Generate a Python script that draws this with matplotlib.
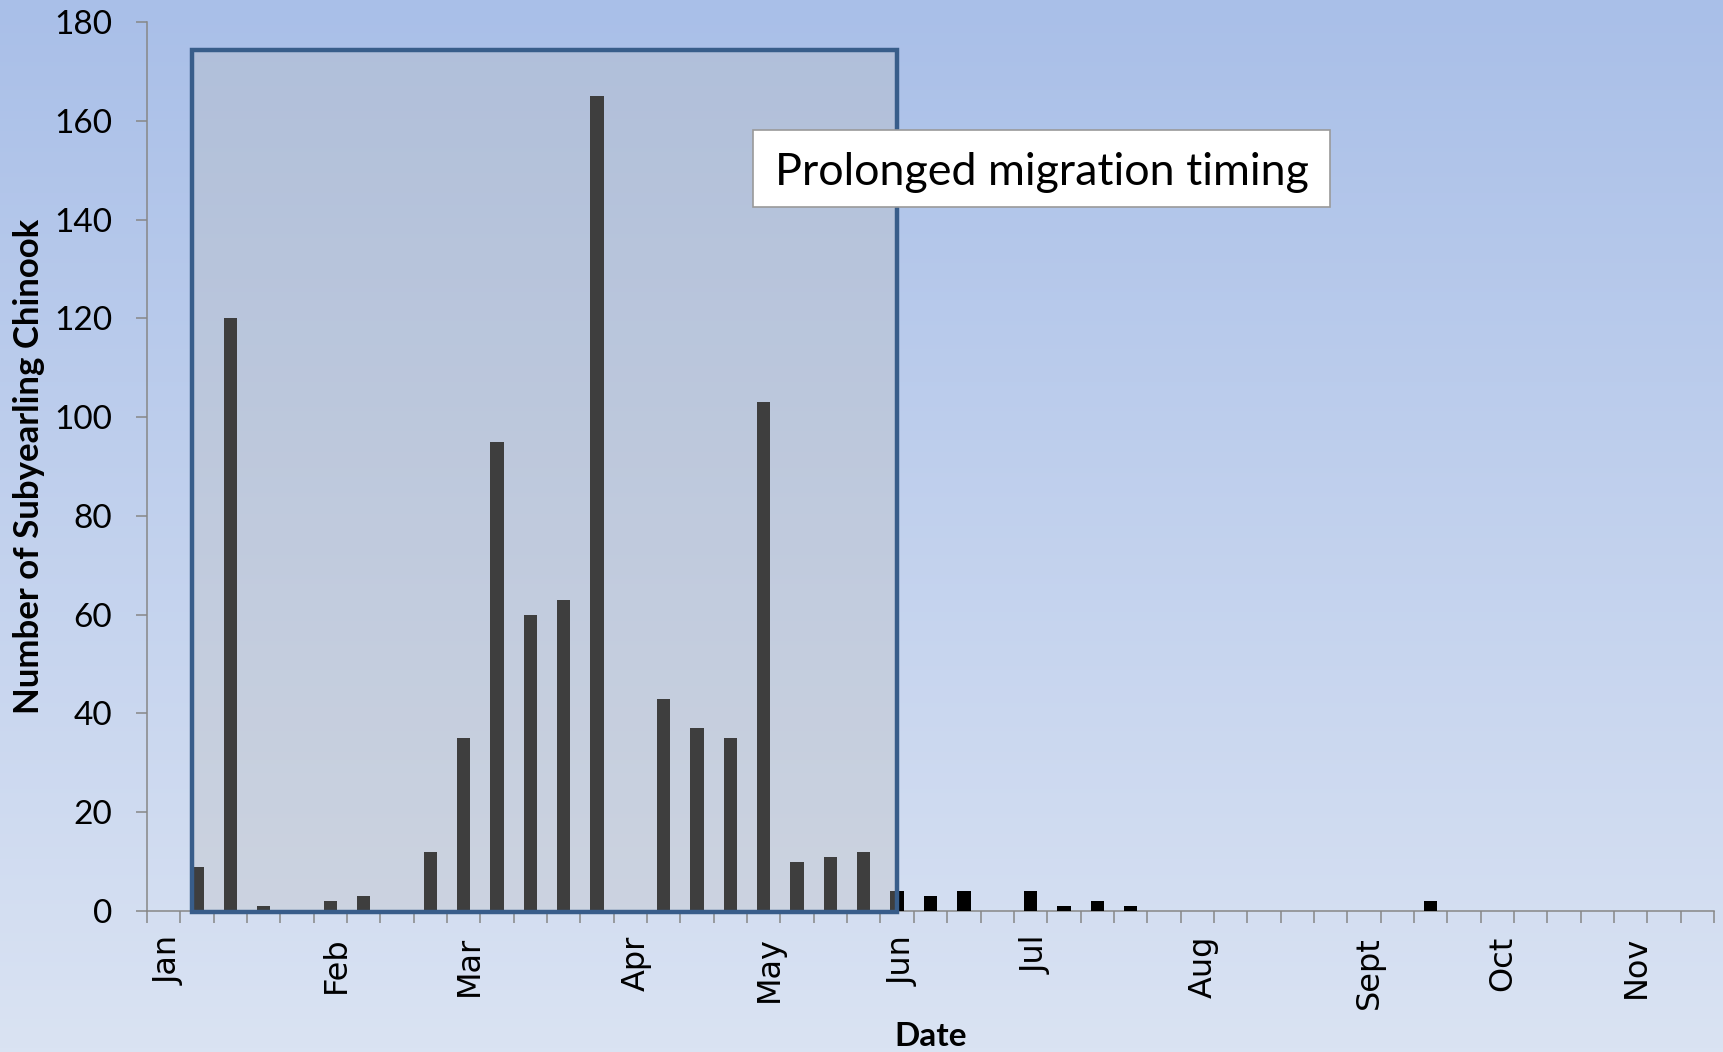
import numpy as np
import matplotlib
matplotlib.use("Agg")
import matplotlib.pyplot as plt
from matplotlib.patches import Rectangle

# weekly bins, January through November
month_labels = ["Jan", "", "", "", "", "Feb", "", "", "", "Mar", "", "", "", "",
                "Apr", "", "", "", "May", "", "", "", "Jun", "", "", "", "Jul",
                "", "", "", "", "Aug", "", "", "", "", "Sept", "", "", "", "Oct",
                "", "", "", "Nov", "", ""]
counts = [0, 9, 120, 1, 0, 2, 3, 0, 12, 35, 95, 60, 63, 165, 0, 43, 37, 35,
          103, 10, 11, 12, 4, 3, 4, 0, 4, 1, 2, 1, 0, 0, 0, 0, 0, 0, 0, 0,
          2, 0, 0, 0, 0, 0, 0, 0, 0]
y_ticks = [0, 20, 40, 60, 80, 100, 120, 140, 160, 180]
highlight = (1, 22)   # weeks inside the "prolonged migration" box
annotation = "Prolonged migration timing"

W, H = 1723, 1052
fig = plt.figure(figsize=(W / 100, H / 100), dpi=100)

# background gradient
bg = fig.add_axes([0, 0, 1, 1], zorder=-10)
top = np.array([169, 191, 232]) / 255
bot = np.array([218, 227, 243]) / 255
t = np.linspace(0, 1, 256)[:, None]
grad = (top[None, :] * (1 - t) + bot[None, :] * t)[:, None, :]
bg.imshow(grad, aspect='auto', extent=[0, 1, 0, 1])
bg.axis('off')

ax = fig.add_axes([147 / W, 1 - 911 / H, 1567 / W, 889 / H])
ax.set_facecolor('none')

x = np.arange(len(counts))
ax.bar(x, counts, width=0.4, color='black', zorder=3)

ax.set_xlim(-0.5, len(counts) - 0.5)
ax.set_ylim(0, 180)
ax.set_yticks(y_ticks)
ax.set_yticklabels([str(v) for v in y_ticks], fontsize=24, family='Lato')

# category boundaries get tick marks, month names sit (slightly right of) centre
ax.set_xticks(np.arange(len(counts) + 1) - 0.5)
ax.set_xticklabels([])
ax.set_xticks(x + 0.17, minor=True)
ax.set_xticklabels(month_labels, minor=True, rotation=90, fontsize=23,
                   family='DejaVu Sans')

gray = '#878787'
for s in ['top', 'right']:
    ax.spines[s].set_visible(False)
for s in ['left', 'bottom']:
    ax.spines[s].set_color(gray)
    ax.spines[s].set_linewidth(1.1)
ax.tick_params(axis='y', direction='out', length=8, width=1.1, color=gray, pad=17)
ax.tick_params(axis='x', which='major', direction='out', length=8.5, width=1.1,
               color=gray)
ax.tick_params(axis='x', which='minor', length=0, pad=18)

# highlight box
x0, x1 = highlight[0] - 0.15, highlight[1] - 0.01
ax.add_patch(Rectangle((x0, -0.2), x1 - x0, 174.5,
                       facecolor=(0.745, 0.745, 0.745, 0.33),
                       edgecolor='#385D8A', linewidth=3.2, zorder=4,
                       clip_on=False))

# annotation box
ax.add_patch(Rectangle((17.68, 142.5), 17.3, 15.6, facecolor='white',
                       edgecolor='#9a9a9a', linewidth=1.2, zorder=5))
ax.text(26.33, 149.6, annotation, ha='center', va='center', fontsize=32.3,
        family='Lato', zorder=6)

fig.text(29 / W, 1 - 466 / H, "Number of Subyearling Chinook", rotation=90,
         ha='center', va='center', fontsize=25, fontweight='bold', family='Lato')
fig.text(931 / W, 6 / H, "Date", ha='center', va='baseline', fontsize=24,
         fontweight='bold', family='Lato')

fig.savefig("out.png", dpi=100)
